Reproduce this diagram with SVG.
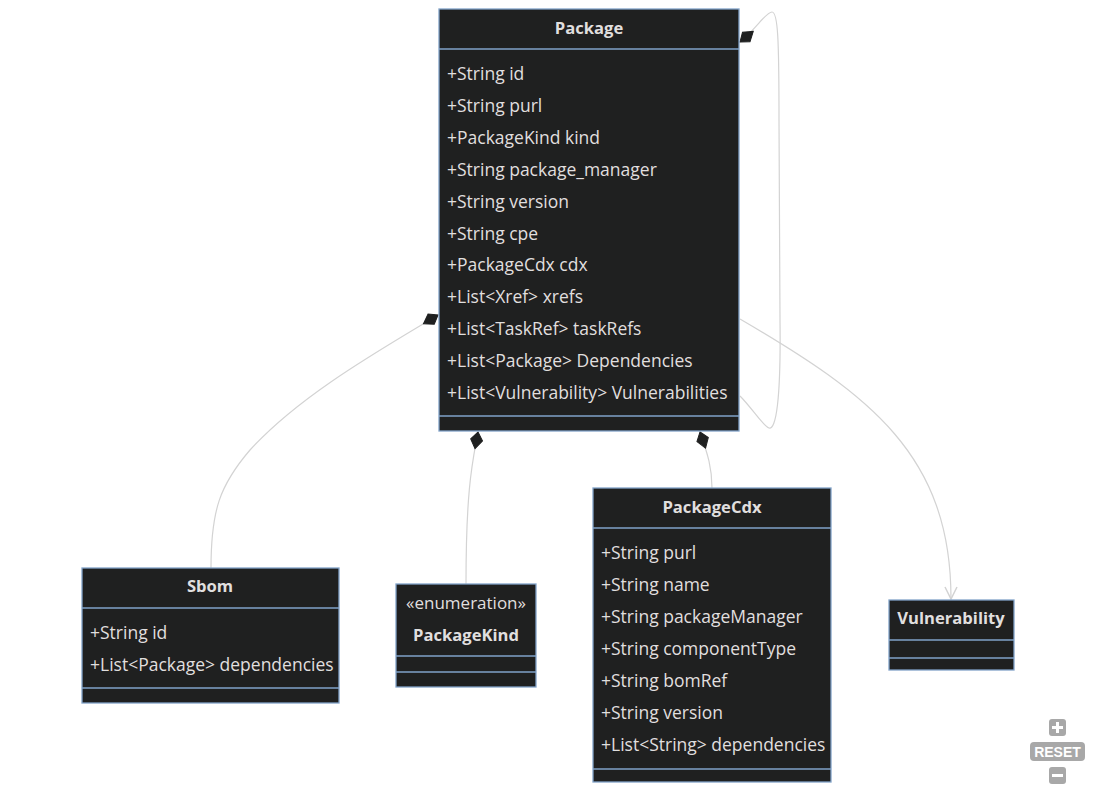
<svg xmlns="http://www.w3.org/2000/svg" width="1096" height="792" viewBox="0 0 1096 792">
<style>
.box{fill:#1f2020;stroke:#81a2c8;stroke-width:1.3}
.div{stroke:#81a2c8;stroke-width:1.3}
.t{font-family:"Open Sans","Noto Sans","DejaVu Sans",sans-serif;font-size:17.5px;fill:#e0dfdf}
.h{font-weight:bold;text-anchor:middle;font-size:16.6px}
.e{font-size:17px;text-anchor:middle}
.edge{fill:none;stroke:#d3d3d3;stroke-width:1.2}
.ctl{fill:#a8a8a8}
</style>
<defs>
<marker id="comp" viewBox="0 0 20 14" markerWidth="20" markerHeight="14" refX="1" refY="7" orient="auto" markerUnits="userSpaceOnUse">
<path d="M1,7 L9,1 L18,7 L9,13 Z" fill="#1f2020" stroke="#1f2020" stroke-width="1"/>
</marker>
<marker id="arr" viewBox="0 0 20 14" markerWidth="20" markerHeight="14" refX="18" refY="7" orient="auto" markerUnits="userSpaceOnUse">
<path d="M6,1 L18,7 L6,13" fill="none" stroke="#d3d3d3" stroke-width="1.5"/>
</marker>
</defs>
<g id="connectors">
<path class="edge" marker-start="url(#comp)" d="M438,315 C380,350 300,395 250,450 C220,485 211,510 211,568"/>
<path class="edge" marker-start="url(#comp)" d="M478,432 C473,460 466,485 466,584"/>
<path class="edge" marker-start="url(#comp)" d="M700,432 C708,455 712,468 712,488"/>
<path class="edge" marker-end="url(#arr)" d="M740,319 C870,395 951,455 951,599"/>
<path class="edge" marker-start="url(#comp)" d="M740,42 C755,30 766,12 772,12 C778,12 779,40 779,120 L780,320 C781,400 776,430 769,428 C763,426 752,408 740,396"/>
</g>
<g id="node-Package">
<rect class="box" x="439" y="9" width="300" height="422"/>
<line class="div" x1="439" y1="49" x2="739" y2="49"/>
<line class="div" x1="439" y1="416" x2="739" y2="416"/>
<text class="t h" x="589" y="34">Package</text>
<text class="t" x="447" y="80">+String id</text>
<text class="t" x="447" y="112">+String purl</text>
<text class="t" x="447" y="144">+PackageKind kind</text>
<text class="t" x="447" y="176">+String package_manager</text>
<text class="t" x="447" y="208">+String version</text>
<text class="t" x="447" y="240">+String cpe</text>
<text class="t" x="447" y="271">+PackageCdx cdx</text>
<text class="t" x="447" y="303">+List&lt;Xref&gt; xrefs</text>
<text class="t" x="447" y="335">+List&lt;TaskRef&gt; taskRefs</text>
<text class="t" x="447" y="367">+List&lt;Package&gt; Dependencies</text>
<text class="t" x="447" y="399">+List&lt;Vulnerability&gt; Vulnerabilities</text>
</g>
<g id="node-Sbom">
<rect class="box" x="82" y="568" width="257" height="135"/>
<line class="div" x1="82" y1="608" x2="339" y2="608"/>
<line class="div" x1="82" y1="688" x2="339" y2="688"/>
<text class="t h" x="210" y="592">Sbom</text>
<text class="t" x="90" y="639">+String id</text>
<text class="t" x="90" y="671">+List&lt;Package&gt; dependencies</text>
</g>
<g id="node-PackageKind">
<rect class="box" x="396" y="584" width="140" height="103"/>
<line class="div" x1="396" y1="656" x2="536" y2="656"/>
<line class="div" x1="396" y1="672" x2="536" y2="672"/>
<text class="t e" x="466" y="609">«enumeration»</text>
<text class="t h" x="466" y="641">PackageKind</text>
</g>
<g id="node-PackageCdx">
<rect class="box" x="593" y="488" width="238" height="294"/>
<line class="div" x1="593" y1="528" x2="831" y2="528"/>
<line class="div" x1="593" y1="769" x2="831" y2="769"/>
<text class="t h" x="712" y="513">PackageCdx</text>
<text class="t" x="601" y="559">+String purl</text>
<text class="t" x="601" y="591">+String name</text>
<text class="t" x="601" y="623">+String packageManager</text>
<text class="t" x="601" y="655">+String componentType</text>
<text class="t" x="601" y="687">+String bomRef</text>
<text class="t" x="601" y="719">+String version</text>
<text class="t" x="601" y="751">+List&lt;String&gt; dependencies</text>
</g>
<g id="node-Vulnerability">
<rect class="box" x="889" y="600" width="125" height="70"/>
<line class="div" x1="889" y1="640" x2="1014" y2="640"/>
<line class="div" x1="889" y1="658" x2="1014" y2="658"/>
<text class="t h" x="951" y="624">Vulnerability</text>
</g>
<g id="controls">
<rect class="ctl" x="1049" y="719" width="17" height="17" rx="3"/>
<path d="M1057.5,722 V733 M1052,727.5 H1063" stroke="#fff" stroke-width="3"/>
<rect class="ctl" x="1030" y="742" width="55" height="19" rx="4"/>
<text x="1057.5" y="757" text-anchor="middle" font-family="Liberation Sans,Arial,sans-serif" font-size="14" font-weight="bold" fill="#fff">RESET</text>
<rect class="ctl" x="1049" y="767" width="17" height="17" rx="3"/>
<path d="M1052,775.5 H1063" stroke="#fff" stroke-width="3"/>
</g>
</svg>
